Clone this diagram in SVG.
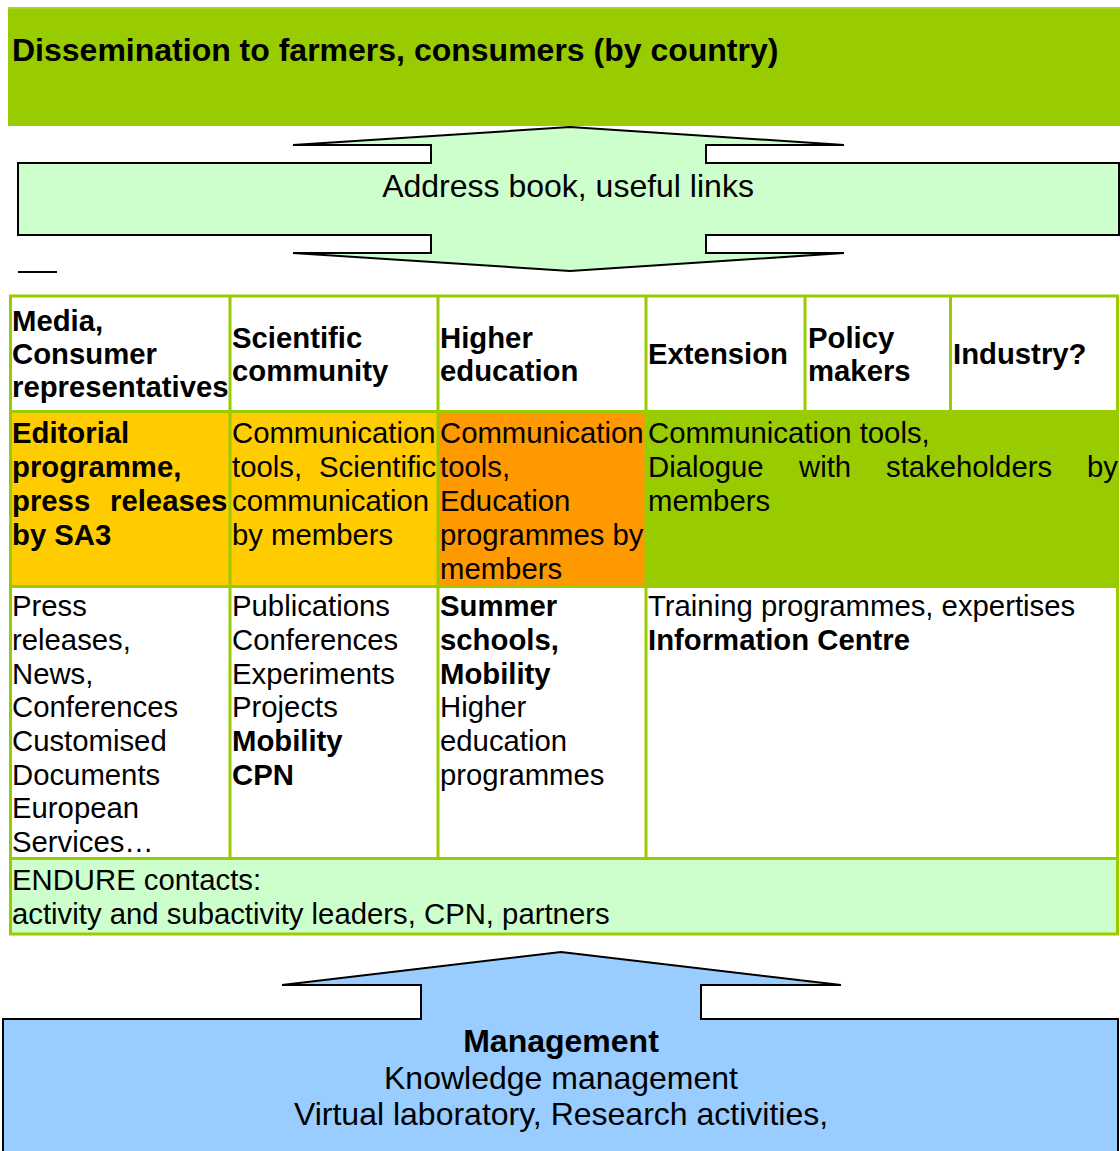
<svg xmlns="http://www.w3.org/2000/svg" width="1120" height="1151" viewBox="0 0 1120 1151">
<style>
text{font-family:"Liberation Sans",Arial,sans-serif;fill:#000}
.t{font-size:29.3px}
.b{font-weight:bold}
.big{font-size:32px}
.grid{stroke:#99CC00;stroke-width:3;fill:none}
.arrow{stroke:#000;stroke-width:2;stroke-linejoin:miter}
</style>
<rect width="1120" height="1151" fill="#fff"/>

<g id="dissemination">
<rect x="8" y="7" width="1112" height="119" fill="#99CC00"/>
<line x1="8" y1="8" x2="1120" y2="8" stroke="#B8DD44" stroke-width="1"/>
<text class="big b" x="12" y="61">Dissemination to farmers, consumers (by country)</text>
</g>

<g id="connectors">
<g id="address-book">
<polygon class="arrow" fill="#CCFFCC" points="570,127 844,145 706,145 706,163 1119,163 1119,235 706,235 706,253 844,253 570,271 293,253 431,253 431,235 18,235 18,163 431,163 431,145 293,145"/>
<text class="big" x="568" y="197" text-anchor="middle">Address book, useful links</text>
</g>
<line x1="18" y1="272" x2="57" y2="272" stroke="#000" stroke-width="2"/>
<g id="management">
<polygon class="arrow" fill="#99CCFF" points="561,952 841,985 701,985 701,1019 1118,1019 1118,1160 3,1160 3,1019 421,1019 421,985 282,985"/>
<text class="big b" x="561" y="1052" text-anchor="middle">Management</text>
<text class="big" x="561" y="1089" text-anchor="middle">Knowledge management</text>
<text class="big" x="561" y="1125" text-anchor="middle">Virtual laboratory, Research activities,</text>
</g>
</g>

<g id="table">
<g id="fills">
<rect x="10" y="411" width="220" height="176" fill="#FFCC00"/>
<rect x="230" y="411" width="208" height="176" fill="#FFCC00"/>
<rect x="438" y="411" width="208" height="176" fill="#FF9900"/>
<rect x="646" y="411" width="472" height="176" fill="#99CC00"/>
<rect x="10" y="858" width="1108" height="76" fill="#CCFFCC"/>
</g>
<g id="grid">
<rect class="grid" x="10.5" y="296" width="1107" height="638"/>
<line class="grid" x1="10" y1="411.5" x2="1118" y2="411.5"/>
<line class="grid" x1="10" y1="586.5" x2="1118" y2="586.5"/>
<line class="grid" x1="10" y1="858.5" x2="1118" y2="858.5"/>
<line class="grid" x1="230" y1="296" x2="230" y2="858"/>
<line class="grid" x1="438" y1="296" x2="438" y2="858"/>
<line class="grid" x1="646" y1="296" x2="646" y2="858"/>
<line class="grid" x1="805" y1="296" x2="805" y2="411"/>
<line class="grid" x1="950.5" y1="296" x2="950.5" y2="411"/>
</g>

<g id="h-media"><text class="t b" x="12"><tspan x="12" y="331">Media,</tspan><tspan x="12" y="364">Consumer</tspan><tspan x="12" y="397">representatives</tspan></text></g>
<g id="h-scientific"><text class="t b"><tspan x="232" y="348">Scientific</tspan><tspan x="232" y="381">community</tspan></text></g>
<g id="h-higher"><text class="t b"><tspan x="440" y="348">Higher</tspan><tspan x="440" y="381">education</tspan></text></g>
<g id="h-extension"><text class="t b" x="648" y="364">Extension</text></g>
<g id="h-policy"><text class="t b"><tspan x="808" y="348">Policy</tspan><tspan x="808" y="381">makers</tspan></text></g>
<g id="h-industry"><text class="t b" x="953" y="364">Industry?</text></g>

<g id="r2-media"><text class="t b"><tspan x="12" y="443">Editorial</tspan><tspan x="12" y="477">programme,</tspan><tspan x="12" y="511">press</tspan><tspan x="110" y="511">releases</tspan><tspan x="12" y="545">by SA3</tspan></text></g>
<g id="r2-scientific"><text class="t"><tspan x="232" y="443">Communication</tspan><tspan x="232" y="477">tools,</tspan><tspan x="319" y="477">Scientific</tspan><tspan x="232" y="511">communication</tspan><tspan x="232" y="545">by members</tspan></text></g>
<g id="r2-higher"><text class="t"><tspan x="440" y="443">Communication</tspan><tspan x="440" y="477">tools,</tspan><tspan x="440" y="511">Education</tspan><tspan x="440" y="545">programmes by</tspan><tspan x="440" y="579">members</tspan></text></g>
<g id="r2-extension"><text class="t"><tspan x="648" y="443">Communication tools,</tspan><tspan x="648" y="477">Dialogue</tspan><tspan x="799" y="477">with</tspan><tspan x="886" y="477">stakeholders</tspan><tspan x="1087" y="477">by</tspan><tspan x="648" y="511">members</tspan></text></g>

<g id="r3-media"><text class="t"><tspan x="12" y="616">Press</tspan><tspan x="12" y="650">releases,</tspan><tspan x="12" y="684">News,</tspan><tspan x="12" y="717">Conferences</tspan><tspan x="12" y="751">Customised</tspan><tspan x="12" y="785">Documents</tspan><tspan x="12" y="818">European</tspan><tspan x="12" y="852">Services…</tspan></text></g>
<g id="r3-scientific"><text class="t"><tspan x="232" y="616">Publications</tspan><tspan x="232" y="650">Conferences</tspan><tspan x="232" y="684">Experiments</tspan><tspan x="232" y="717">Projects</tspan><tspan x="232" y="751" font-weight="bold">Mobility</tspan><tspan x="232" y="785" font-weight="bold">CPN</tspan></text></g>
<g id="r3-higher"><text class="t"><tspan x="440" y="616" font-weight="bold">Summer</tspan><tspan x="440" y="650" font-weight="bold">schools,</tspan><tspan x="440" y="684" font-weight="bold">Mobility</tspan><tspan x="440" y="717">Higher</tspan><tspan x="440" y="751">education</tspan><tspan x="440" y="785">programmes</tspan></text></g>
<g id="r3-extension"><text class="t"><tspan x="648" y="616">Training programmes, expertises</tspan><tspan x="648" y="650" font-weight="bold">Information Centre</tspan></text></g>

<g id="r4-contacts"><text class="t"><tspan x="12" y="890">ENDURE contacts:</tspan><tspan x="12" y="924">activity and subactivity leaders, CPN, partners</tspan></text></g>
</g>
</svg>
